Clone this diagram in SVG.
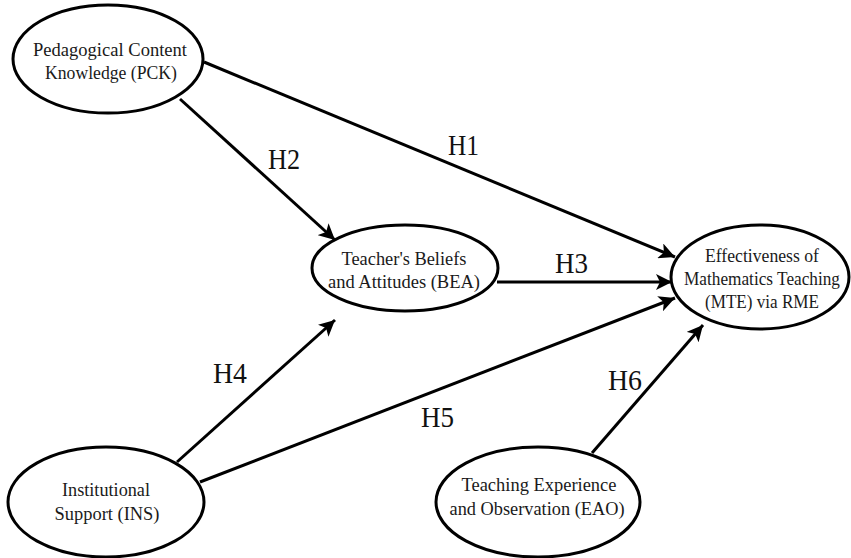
<svg xmlns="http://www.w3.org/2000/svg" width="851" height="558" viewBox="0 0 851 558">
<style>
.node ellipse{fill:#fff;stroke:#000;stroke-width:3}
.node text{font-family:"Liberation Serif","Times New Roman",serif;font-size:19.5px;fill:#1a1a1a;text-anchor:middle}
.node text.narrow{font-size:18px}
.lbl{font-family:"Liberation Serif","Times New Roman",serif;font-size:29px;fill:#111}
.edge{stroke:#000;stroke-width:3;fill:none;marker-end:url(#arr)}
</style>
<defs>
<marker id="arr" markerUnits="userSpaceOnUse" markerWidth="18" markerHeight="16" refX="16" refY="8" orient="auto">
<path d="M0,0 L16,8 L0,16 L4,8 z" fill="#000"/>
</marker>
</defs>
<rect width="851" height="558" fill="#fff"/>
<g id="connectors">
<line class="edge" x1="204" y1="62" x2="675" y2="257"/>
<line class="edge" x1="180" y1="99" x2="335" y2="240"/>
<line class="edge" x1="497" y1="282" x2="672" y2="282"/>
<line class="edge" x1="177" y1="462" x2="335" y2="320"/>
<line class="edge" x1="200" y1="482" x2="675" y2="298"/>
<line class="edge" x1="592" y1="453" x2="703" y2="325"/>
</g>
<g id="labels">
<text class="lbl" x="448" y="155" textLength="31" lengthAdjust="spacingAndGlyphs">H1</text>
<text class="lbl" x="268" y="169" textLength="32" lengthAdjust="spacingAndGlyphs">H2</text>
<text class="lbl" x="555" y="273" textLength="33" lengthAdjust="spacingAndGlyphs">H3</text>
<text class="lbl" x="213" y="383" textLength="34" lengthAdjust="spacingAndGlyphs">H4</text>
<text class="lbl" x="421" y="427" textLength="33" lengthAdjust="spacingAndGlyphs">H5</text>
<text class="lbl" x="608" y="390" textLength="34" lengthAdjust="spacingAndGlyphs">H6</text>
</g>
<g id="PCK" class="node">
<ellipse cx="108" cy="59" rx="95" ry="54"/>
<text x="110" y="56" textLength="154" lengthAdjust="spacingAndGlyphs">Pedagogical Content</text>
<text x="111" y="79" textLength="132" lengthAdjust="spacingAndGlyphs">Knowledge (PCK)</text>
</g>
<g id="BEA" class="node">
<ellipse cx="405" cy="268" rx="93" ry="43"/>
<text x="404" y="265" textLength="125" lengthAdjust="spacingAndGlyphs">Teacher's Beliefs</text>
<text x="404" y="288" textLength="152" lengthAdjust="spacingAndGlyphs">and Attitudes (BEA)</text>
</g>
<g id="MTE" class="node">
<ellipse cx="760" cy="277" rx="89" ry="52"/>
<text x="762" y="262" textLength="114" lengthAdjust="spacingAndGlyphs">Effectiveness of</text>
<text class="narrow" x="762" y="285" textLength="156" lengthAdjust="spacingAndGlyphs">Mathematics Teaching</text>
<text x="762" y="308" textLength="114" lengthAdjust="spacingAndGlyphs">(MTE) via RME</text>
</g>
<g id="INS" class="node">
<ellipse cx="106" cy="502" rx="98" ry="55"/>
<text x="106" y="496" textLength="88" lengthAdjust="spacingAndGlyphs">Institutional</text>
<text x="107" y="520" textLength="105" lengthAdjust="spacingAndGlyphs">Support (INS)</text>
</g>
<g id="EAO" class="node">
<ellipse cx="538" cy="502" rx="102" ry="55"/>
<text x="539" y="491" textLength="155" lengthAdjust="spacingAndGlyphs">Teaching Experience</text>
<text x="537" y="515" textLength="175" lengthAdjust="spacingAndGlyphs">and Observation (EAO)</text>
</g>
</svg>
